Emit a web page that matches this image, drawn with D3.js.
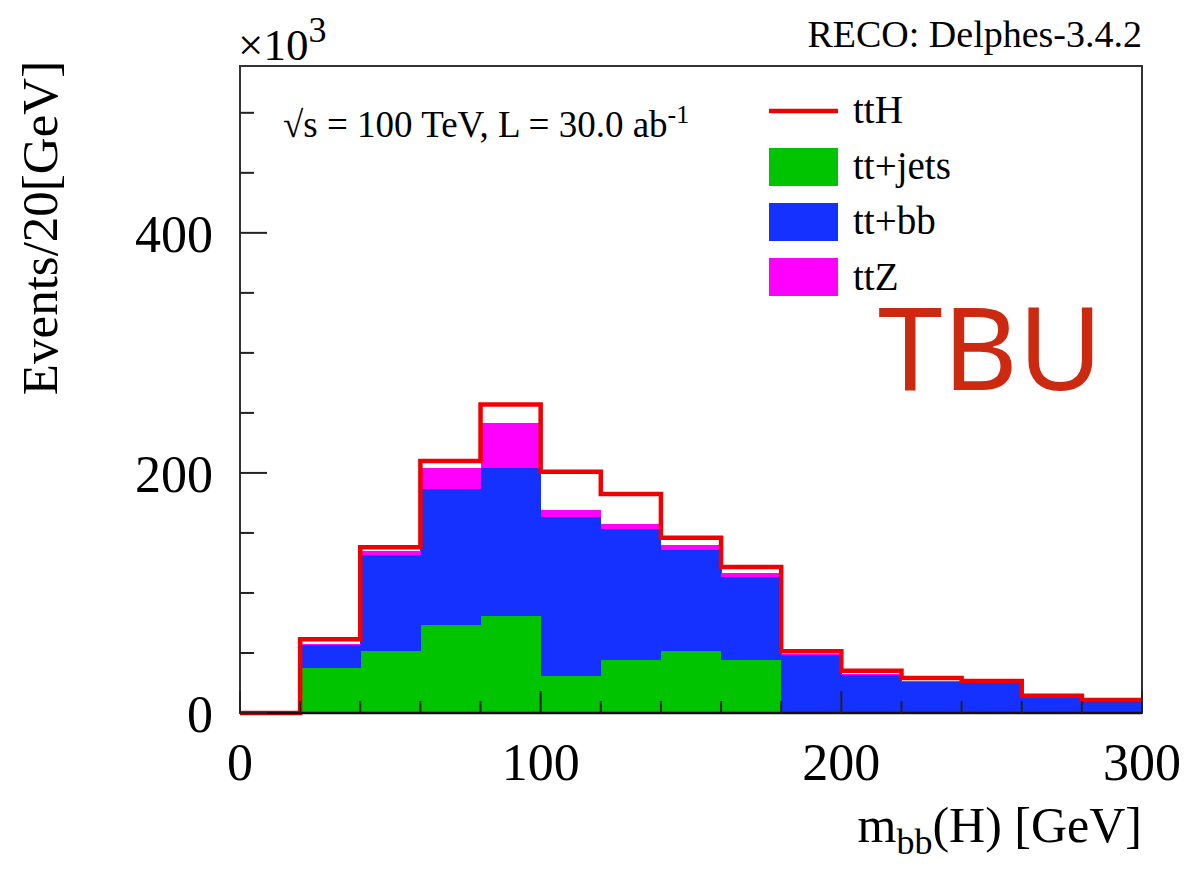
<!DOCTYPE html>
<html>
<head>
<meta charset="utf-8">
<script src="https://d3js.org/d3.v7.min.js"></script>
<style>
  html, body { margin: 0; padding: 0; background: #fff; }
  svg { display: block; font-family: "Liberation Serif", "DejaVu Serif", serif; }
</style>
</head>
<body>
<svg id="chart" width="1184" height="871"></svg>
<script>
// bin low edges of m_bb(H) in GeV, 20 GeV bins
const binEdges = [0, 20, 40, 60, 80, 100, 120, 140, 160, 180, 200, 220, 240, 260, 280];
const binWidth = 20;
// events per bin, x10^3
const ttJets = [0, 37.5, 52, 73, 81, 31, 44, 52, 44, 0, 0, 0, 0, 0, 0];
const ttBB   = [0, 19, 80, 114, 123, 132, 109, 84, 69, 48, 32, 26, 25, 12.8, 10];
const ttZ    = [0, 1, 3, 17, 38, 6, 4.5, 4, 4, 1, 0.8, 0.6, 0.5, 0.5, 0.3];
const ttH    = [0, 4, 3, 6, 15, 32, 25, 6, 4.7, 2.5, 2.5, 2.5, 1.2, 1, 0.5];

const xTicks = [0, 100, 200, 300];
const yTicks = [0, 200, 400];
const legendNames = ["ttH", "tt+jets", "tt+bb", "ttZ"];

const svg = d3.select("#chart");
const padL = 240, padR = 1142, padT = 66, padB = 713;

const x = d3.scaleLinear().domain([0, 300]).range([padL, padR]);
const y = d3.scaleLinear().domain([0, 539]).range([padB, padT]);

const colors = { jets: "#00c400", bb: "#1431ff", z: "#ff00ff", h: "#f00000" };

// stacked backgrounds
const rows = binEdges.map((e, i) => ({ lo: e, jets: ttJets[i], bb: ttBB[i], z: ttZ[i] }));
const stack = d3.stack().keys(["jets", "bb", "z"]);
const layers = stack(rows);

svg.append("g").selectAll("g")
  .data(layers)
  .join("g")
  .attr("fill", d => colors[d.key])
  .selectAll("rect")
  .data(d => d)
  .join("rect")
  .attr("x", d => x(d.data.lo))
  .attr("width", x(binWidth) - x(0) + 0.5)
  .attr("y", d => y(d[1]))
  .attr("height", d => Math.max(0, y(d[0]) - y(d[1])))
  .attr("shape-rendering", "crispEdges");

// ttH drawn on top of the stack
const totals = rows.map((r, i) => r.jets + r.bb + r.z + ttH[i]);
const pts = binEdges.map((e, i) => [e, totals[i]]);
pts.push([300, totals[totals.length - 1]]);
svg.append("path")
  .datum(pts)
  .attr("fill", "none")
  .attr("stroke", colors.h)
  .attr("stroke-width", 4.5)
  .attr("d", d3.line().x(d => x(d[0])).y(d => y(d[1])).curve(d3.curveStepAfter));

// frame
svg.append("rect")
  .attr("x", padL).attr("y", padT)
  .attr("width", padR - padL).attr("height", padB - padT)
  .attr("fill", "none").attr("stroke", "#333").attr("stroke-width", 2);
svg.append("line")
  .attr("x1", padL).attr("x2", padR).attr("y1", padB).attr("y2", padB)
  .attr("stroke", "#111").attr("stroke-width", 2.5);

// ticks, ROOT style (inside the frame)
const tickG = svg.append("g").attr("stroke", "#222").attr("stroke-width", 2);
d3.range(0, 301, 20).forEach(v => {
  const len = v % 100 === 0 ? 22 : 12;
  tickG.append("line").attr("x1", x(v)).attr("x2", x(v))
    .attr("y1", padB).attr("y2", padB - len);
});
d3.range(0, 539, 50).forEach(v => {
  const len = v % 200 === 0 ? 27 : 14;
  tickG.append("line").attr("x1", padL).attr("x2", padL + len)
    .attr("y1", y(v)).attr("y2", y(v));
});

// tick labels
svg.append("g").selectAll("text")
  .data(xTicks).join("text")
  .attr("x", d => x(d)).attr("y", 780)
  .attr("text-anchor", "middle")
  .attr("font-size", 52)
  .text(d => d);
svg.append("g").selectAll("text")
  .data(yTicks).join("text")
  .attr("x", 213).attr("y", d => y(d) + 19)
  .attr("text-anchor", "end")
  .attr("font-size", 52)
  .text(d => d);

// exponent
const expo = svg.append("text").attr("x", 238).attr("y", 60).attr("font-size", 45);
expo.append("tspan").text("\u00d710");
expo.append("tspan").attr("dy", -18).attr("font-size", 36).text("3");

// axis titles
const xt = svg.append("text")
  .attr("x", padR).attr("y", 842)
  .attr("text-anchor", "end").attr("font-size", 50);
xt.append("tspan").text("m");
xt.append("tspan").attr("dy", 12).attr("font-size", 36).text("bb");
xt.append("tspan").attr("dy", -12).text("(H) [GeV]");

svg.append("text")
  .attr("transform", "translate(57,228) rotate(-90)")
  .attr("text-anchor", "middle")
  .attr("font-size", 51)
  .text("Events/20[GeV]");

// header texts
svg.append("text")
  .attr("x", padR).attr("y", 47)
  .attr("text-anchor", "end").attr("font-size", 38)
  .text("RECO: Delphes-3.4.2");

const lumi = svg.append("text").attr("x", 283).attr("y", 137).attr("font-size", 37);
lumi.append("tspan").text("\u221as = 100 TeV, L = 30.0 ab");
lumi.append("tspan").attr("dy", -14).attr("font-size", 26).text("-1");

// legend
const lg = svg.append("g").attr("font-size", 39);
lg.append("line").attr("x1", 769).attr("x2", 838).attr("y1", 111).attr("y2", 111)
  .attr("stroke", colors.h).attr("stroke-width", 4.5);
[colors.jets, colors.bb, colors.z].forEach((c, i) => {
  lg.append("rect").attr("x", 769).attr("y", 148 + i * 55)
    .attr("width", 69).attr("height", 38).attr("fill", c);
});
legendNames.forEach((n, i) => {
  lg.append("text").attr("x", 853).attr("y", 123 + i * 55.7).text(n);
});

// overlay mark
svg.append("text")
  .attr("x", 878).attr("y", 390)
  .attr("font-family", "'Noto Sans', 'DejaVu Sans', sans-serif")
  .attr("font-size", 116)
  .attr("fill", "#cc2a10")
  .text("TBU");
</script>
</body>
</html>
